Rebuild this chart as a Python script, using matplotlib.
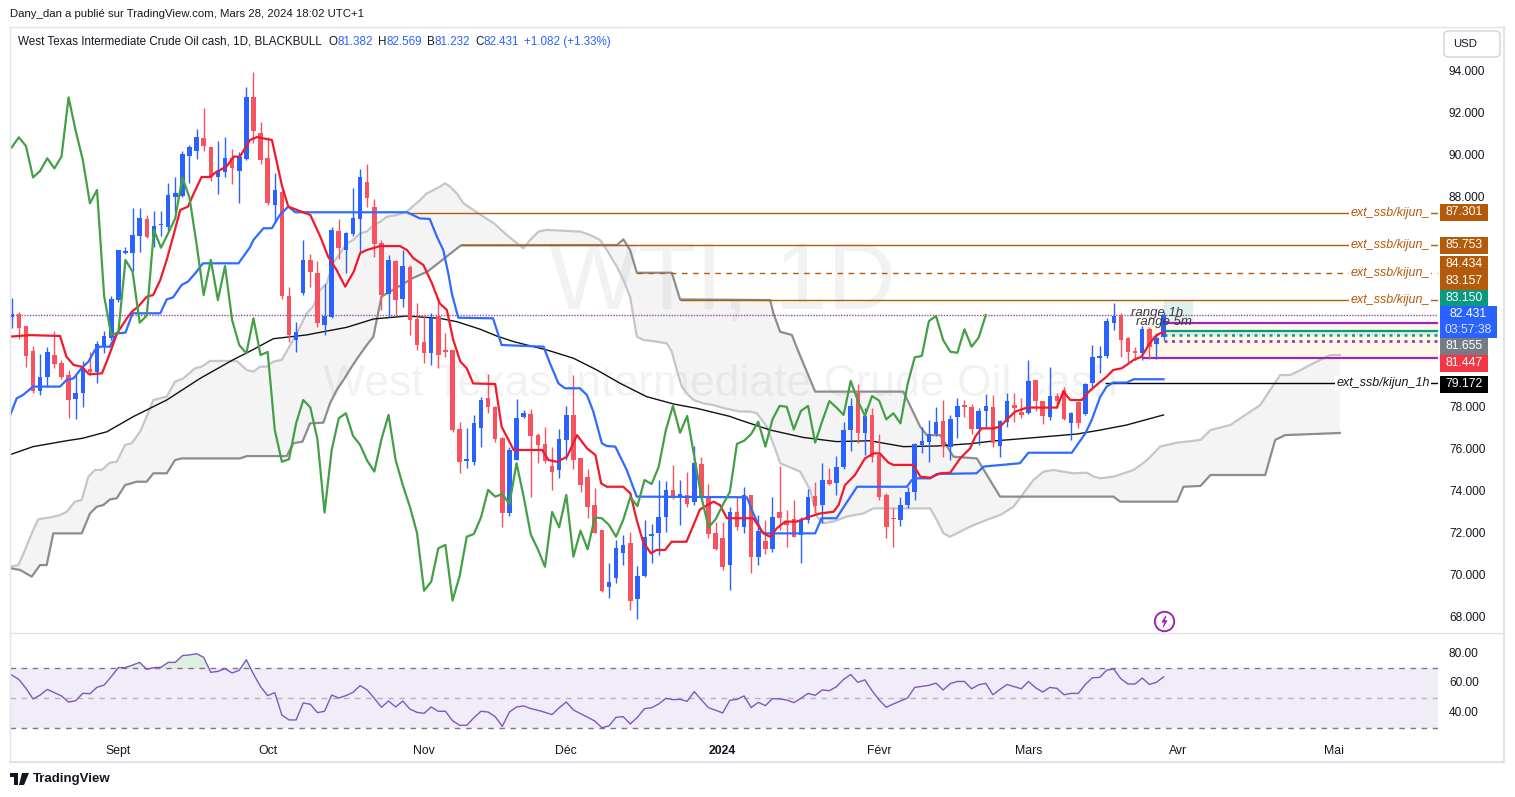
import numpy as np
import matplotlib
matplotlib.use("Agg")
import matplotlib.pyplot as plt
from matplotlib.patches import Rectangle, FancyBboxPatch, Polygon
from matplotlib.lines import Line2D

plt.rcParams['font.family'] = ['Liberation Sans', 'DejaVu Sans']

# ---------------- data ----------------
opens = [82.35, 82.47, 81.92, 80.71, 78.83, 79.49, 80.52, 80.13, 79.57, 78.43,
 78.70, 79.84, 79.73, 80.95, 81.32, 83.14, 85.40, 85.36, 86.19, 86.98,
 86.16, 86.70, 86.63, 88.06, 88.10, 90.00, 90.25, 90.84, 90.41, 88.98,
 89.25, 89.89, 89.30, 89.86, 92.80, 91.10, 89.89, 87.67, 88.30, 83.33,
 81.24, 83.46, 85.05, 84.41, 81.95, 82.35, 86.44, 85.52, 86.29, 87.00,
 88.78, 87.59, 85.84, 83.43, 85.02, 83.17, 84.73, 82.24, 81.16, 80.63,
 82.38, 80.73, 80.76, 76.98, 75.50, 75.44, 77.03, 78.46, 78.06, 76.56,
 73.02, 75.52, 77.56, 77.71, 76.71, 76.27, 75.24, 75.05, 76.48, 77.67,
 75.60, 74.73, 73.38, 72.19, 69.46, 69.89, 71.11, 71.56, 68.89, 70.00,
 71.90, 72.03, 72.83, 74.10, 73.78, 73.86, 73.54, 75.32, 73.78, 72.03,
 71.79, 70.52, 73.03, 72.35, 73.86, 70.92, 71.68, 71.27, 73.03, 72.62,
 72.70, 71.95, 72.67, 73.81, 73.38, 74.57, 74.41, 75.20, 76.95, 78.70,
 76.82, 77.67, 75.76, 73.86, 72.78, 72.67, 73.38, 74.00, 76.22, 76.37,
 76.76, 77.38, 76.16, 77.56, 78.14, 78.06, 76.98, 77.87, 78.06, 76.20,
 77.35, 78.14, 77.82, 77.78, 79.33, 78.33, 77.59, 78.57, 78.86, 77.30,
 78.30, 77.71, 79.17, 80.40, 80.49, 82.06, 82.43, 81.32, 80.68, 80.63,
 81.75, 81.03, 81.382]
highs = [83.22, 82.55, 81.92, 80.95, 80.57, 80.92, 81.66, 80.30, 79.81, 79.65,
 80.24, 80.65, 81.19, 81.68, 83.35, 85.52, 85.65, 87.54, 87.54, 87.19,
 87.38, 87.38, 88.70, 88.98, 90.25, 90.54, 91.28, 92.27, 90.41, 90.73,
 90.92, 90.33, 90.20, 93.27, 94.00, 91.60, 90.90, 89.17, 88.40, 83.78,
 82.11, 86.00, 85.32, 85.00, 83.90, 86.60, 86.99, 86.40, 88.46, 89.36,
 89.62, 87.95, 86.00, 85.30, 85.05, 85.52, 84.81, 82.98, 82.43, 82.54,
 83.30, 81.56, 80.76, 77.35, 77.03, 77.67, 78.54, 79.60, 78.10, 76.63,
 76.16, 78.41, 77.90, 77.95, 76.82, 77.11, 76.16, 76.98, 78.10, 79.57,
 75.60, 75.08, 74.17, 72.19, 70.60, 71.71, 71.95, 72.11, 70.48, 72.67,
 72.50, 74.57, 74.52, 75.29, 74.57, 74.97, 76.19, 75.65, 74.40, 72.59,
 72.59, 73.30, 73.75, 74.25, 73.86, 72.90, 72.67, 73.75, 75.24, 73.14,
 73.62, 72.83, 74.14, 74.49, 75.36, 75.13, 75.71, 77.35, 78.46, 79.14,
 77.98, 77.98, 76.76, 73.94, 73.22, 73.78, 74.25, 76.35, 77.11, 77.43,
 78.06, 78.38, 77.67, 78.46, 78.38, 78.19, 77.98, 78.67, 78.62, 77.43,
 78.70, 78.70, 78.46, 80.29, 79.35, 78.35, 79.94, 78.73, 79.02, 77.82,
 78.35, 79.21, 81.00, 80.95, 82.30, 82.98, 82.51, 81.40, 80.92, 81.90,
 81.87, 81.59, 82.569]
lows = [81.80, 81.27, 79.97, 78.70, 78.60, 79.00, 79.90, 79.40, 77.54, 77.47,
 78.06, 79.57, 79.17, 80.63, 81.24, 83.06, 85.35, 84.54, 85.44, 86.11,
 85.65, 86.20, 86.43, 87.35, 88.06, 88.70, 89.86, 90.24, 88.81, 88.17,
 88.98, 88.65, 87.75, 89.81, 90.60, 89.60, 87.67, 86.87, 83.17, 81.16,
 80.65, 83.38, 83.78, 81.87, 81.48, 82.27, 85.08, 84.41, 86.19, 85.36,
 87.59, 85.17, 82.67, 82.35, 82.43, 82.83, 81.48, 80.76, 80.13, 80.05,
 79.89, 80.44, 76.87, 74.92, 75.13, 75.29, 76.16, 77.75, 76.40, 72.35,
 72.86, 75.52, 77.51, 73.78, 75.37, 75.37, 74.10, 74.65, 75.52, 75.08,
 74.02, 72.75, 72.03, 69.25, 68.94, 69.65, 70.52, 68.38, 67.94, 69.97,
 70.60, 71.00, 72.11, 73.65, 72.43, 73.30, 73.38, 73.62, 71.80, 71.24,
 70.29, 69.33, 72.19, 72.03, 70.16, 70.52, 71.05, 71.16, 72.19, 71.40,
 71.85, 70.60, 72.51, 72.98, 72.51, 74.33, 73.86, 75.08, 75.97, 76.35,
 75.76, 75.44, 73.62, 71.79, 71.40, 72.38, 73.22, 73.62, 75.84, 75.44,
 76.67, 75.68, 75.52, 76.56, 77.56, 76.76, 76.24, 77.03, 76.16, 75.68,
 77.11, 77.35, 77.51, 77.70, 77.87, 77.22, 77.43, 77.98, 77.43, 76.48,
 77.03, 77.67, 78.97, 79.68, 80.37, 81.71, 80.41, 80.20, 80.29, 80.29,
 80.32, 80.33, 81.232]
closes = [82.50, 81.82, 80.49, 78.81, 79.46, 80.65, 80.08, 79.49, 78.38, 78.70,
 79.89, 79.73, 81.03, 81.43, 83.19, 85.52, 85.49, 86.24, 87.03, 86.16,
 86.67, 86.78, 88.14, 88.25, 90.10, 90.41, 90.89, 90.48, 88.98, 89.29,
 89.89, 89.41, 89.97, 92.79, 91.20, 89.81, 87.75, 88.38, 83.33, 81.48,
 81.60, 85.05, 84.49, 82.06, 82.40, 86.48, 85.63, 86.32, 87.03, 88.98,
 88.02, 85.81, 83.38, 85.05, 83.14, 84.76, 82.19, 81.00, 80.60, 82.27,
 80.52, 80.67, 76.95, 75.44, 75.56, 77.27, 78.38, 78.03, 76.51, 73.02,
 76.00, 77.51, 77.75, 76.68, 76.24, 75.49, 74.97, 76.51, 77.67, 75.52,
 74.33, 73.30, 72.06, 69.30, 69.73, 71.32, 71.48, 68.83, 70.00, 71.87,
 72.00, 72.79, 74.10, 73.78, 73.90, 73.43, 75.37, 73.78, 71.98, 71.27,
 70.44, 73.05, 72.32, 73.86, 70.92, 72.16, 71.27, 72.79, 72.75, 72.43,
 71.87, 72.67, 73.75, 73.33, 74.57, 74.38, 75.20, 76.95, 78.10, 76.82,
 77.62, 75.68, 73.78, 72.32, 72.70, 73.38, 74.00, 76.29, 76.44, 76.76,
 77.35, 76.16, 77.46, 78.10, 78.06, 76.98, 77.86, 78.10, 76.35, 77.38,
 78.33, 78.02, 77.67, 79.29, 78.35, 77.62, 78.57, 78.35, 77.46, 77.75,
 77.27, 79.13, 80.41, 80.48, 82.14, 82.38, 81.24, 80.68, 80.63, 81.75,
 80.92, 81.35, 82.431]

chikou_shift = 25

tenkan_pts = [(-0.2,81.40),(2.6,81.47),(6.8,81.43),(7.7,80.44),(8.7,80.05),(9.8,79.97),(10.9,79.60),
 (12.7,79.65),(13.8,80.60),(14.8,81.55),(16.2,82.27),(16.9,82.59),(17.8,82.83),(19.0,83.30),(19.9,83.38),
 (20.9,84.10),(21.8,85.05),(22.7,86.16),(23.7,87.43),(24.8,87.59),(25.5,88.14),(26.7,89.00),(27.9,89.00),
 (28.8,89.25),(30.2,89.49),(31.2,89.97),(32.1,89.97),(33.5,90.76),(34.5,90.90),(36.6,90.76),(38.0,88.60),
 (38.9,87.59),(42.0,87.19),(43.4,86.16),(44.5,85.21),(45.7,84.57),(46.9,83.78),(48.1,84.49),(49.0,85.37),
 (49.9,85.52),(51.8,85.71),(54.6,85.71),(55.6,85.52),(56.5,85.13),(57.9,84.81),(59.1,83.94),(60.2,82.98),
 (61.2,82.67),(62.1,81.24),(63.1,80.21),(64.0,79.89),(64.9,79.17),(68.0,79.14),(68.9,77.11),(70.6,76.00),
 (74.6,76.00),(75.5,75.52),(76.7,75.44),(78.1,75.68),(79.5,76.71),(80.9,76.08),(82.1,75.76),(82.9,74.41),
 (83.7,74.25),(86.0,74.25),(87.0,73.94),(87.9,72.67),(88.8,71.63),(89.9,71.08),(90.7,71.24),(91.9,71.24),
 (92.8,71.63),(94.9,71.63),(96.8,73.17),(98.7,73.54),(99.6,73.38),(100.6,72.75),(104.3,72.75),(105.7,72.03),
 (106.7,71.87),(107.6,72.27),(108.8,72.59),(110.4,72.59),(112.3,72.83),(113.7,72.98),(115.6,73.06),
 (116.3,73.38),(117.2,74.33),(118.6,74.81),(120.0,75.60),(121.2,75.84),(122.1,75.84),(123.3,75.40),
 (124.0,75.29),(126.8,75.29),(127.8,74.73),(129.2,74.68),(130.6,74.89),(132.0,74.92),(133.4,75.60),
 (134.8,76.08),(135.5,76.63),(136.4,77.03),(138.0,77.03),(139.0,77.11),(139.9,77.43),(141.1,77.82),
 (142.8,78.02),(147.0,78.02),(147.9,78.78),(148.9,78.38),(150.5,78.38),(151.5,78.78),(153.1,79.25),
 (154.0,79.49),(154.9,79.81),(156.1,79.89),(156.8,80.05),(157.8,80.29),(158.9,80.44),(159.9,81.00),
 (160.8,81.40),(161.5,81.56),(162.2,81.59)]

kijun_pts = [(-0.2,77.67),(0.7,78.46),(1.6,78.62),(3.0,79.02),(6.8,79.02),(7.7,79.33),(8.7,79.41),(9.8,79.89),
 (10.8,80.21),(11.7,80.76),(12.4,80.92),(13.8,80.92),(14.8,81.55),(16.0,81.59),(17.0,82.51),(20.9,82.51),
 (21.8,83.17),(22.7,83.27),(23.9,83.86),(24.8,84.02),(26.0,84.49),(26.9,84.89),(31.9,84.89),(33.5,85.65),
 (34.0,86.00),(35.4,86.56),(36.6,86.56),(37.7,87.19),(38.9,87.59),(39.9,87.32),(55.6,87.32),(57.4,87.03),
 (58.8,87.00),(59.8,86.16),(60.7,85.52),(61.4,84.41),(61.9,83.46),(62.8,82.30),(67.7,82.27),(68.9,81.00),
 (74.8,80.92),(75.7,80.13),(76.9,79.17),(77.8,78.94),(79.9,78.94),(80.9,78.62),(81.8,77.83),(83.0,76.32),
 (83.7,76.19),(84.9,76.16),(86.5,75.05),(87.9,73.78),(103.4,73.75),(104.3,72.98),(105.5,72.11),(106.0,72.03),
 (113.0,72.03),(113.9,72.75),(116.0,72.75),(117.2,73.38),(118.9,74.25),(125.9,74.25),(126.6,74.57),
 (127.3,74.65),(129.2,74.65),(130.1,74.86),(135.7,74.89),(136.7,75.21),(141.8,75.37),(143.0,75.87),
 (149.1,75.87),(151.0,76.79),(151.9,77.43),(153.1,78.54),(154.0,79.02),(154.9,79.21),(156.8,79.21),
 (157.8,79.37),(162.0,79.37)]

sma200_pts = [(-0.2,75.78),(3.0,76.16),(7.7,76.44),(10.0,76.56),(13.4,76.87),(17.1,77.59),(21.8,78.38),
 (26.5,79.41),(31.1,80.29),(33.5,80.70),(36.8,81.30),(41.5,81.48),(42.7,81.56),(47.1,81.84),(50.9,82.24),
 (55.6,82.38),(60.2,82.27),(62.6,82.11),(65.9,81.75),(68.2,81.43),(70.6,81.16),(75.3,80.76),(79.0,80.37),
 (82.3,79.81),(85.6,79.17),(89.3,78.54),(93.1,78.19),(96.4,77.98),(101.0,77.60),(102.4,77.43),(106.7,76.95),
 (111.3,76.60),(116.0,76.40),(120.7,76.44),(125.4,76.16),(130.1,76.19),(134.8,76.30),(138.1,76.43),
 (142.8,76.56),(149.8,76.76),(153.1,76.95),(156.8,77.19),(162.0,77.67)]

span_a_pts = [(-0.24,70.44),(0.93,70.52),(1.87,71.24),(2.81,72.03),(3.74,72.70),(5.39,72.79),(6.79,72.90),
 (7.74,73.06),(8.90,73.54),(9.85,73.62),(10.78,74.73),(11.72,75.05),(12.66,75.05),(13.83,75.40),(14.77,75.44),
 (15.94,76.24),(16.88,76.32),(18.05,76.87),(18.99,77.59),(19.92,78.38),(21.80,78.54),(22.97,79.25),
 (24.14,79.41),(25.78,79.89),(26.73,79.97),(27.89,80.24),(31.65,80.24),(33.06,79.81),(33.99,79.73),
 (34.93,79.97),(35.87,79.97),(36.80,80.21),(37.98,80.29),(38.91,80.84),(39.85,81.40),(40.56,81.87),
 (41.50,82.51),(42.38,82.83),(43.37,83.62),(44.31,83.94),(45.20,84.89),(46.18,85.37),(47.12,85.84),
 (48.05,86.00),(49.00,86.32),(49.94,86.40),(50.87,86.71),(51.81,86.87),(52.75,87.11),(54.16,87.19),
 (55.56,87.35),(57.43,87.90),(58.38,88.22),(59.31,88.38),(60.25,88.54),(60.95,88.70),(61.66,88.54),
 (62.60,88.22),(63.53,87.75),(64.93,87.43),(66.34,87.11),(67.80,86.80),(69.63,86.24),(70.50,86.00),
 (71.97,85.60),(72.91,86.00),(74.08,86.40),(75.26,86.48),(79.94,86.40),(81.35,86.24),(82.76,86.00),
 (83.70,85.52),(85.11,84.73),(86.03,84.10),(86.97,83.30),(87.92,81.40),(88.85,81.24),(90.73,81.16),
 (92.14,81.08),(92.84,80.68),(93.54,79.81),(94.25,79.02),(94.95,78.70),(95.88,78.38),(97.29,78.22),
 (98.69,78.14),(100.10,78.00),(102.45,77.83),(103.86,77.83),(104.80,77.75),(106.20,77.11),(107.61,75.84),
 (108.08,75.37),(110.89,74.97),(112.30,74.10),(113.24,72.83),(114.17,72.51),(115.58,72.59),(117.46,72.83),
 (119.80,72.98),(121.20,73.22),(129.17,73.22),(130.11,72.67),(131.04,72.03),(131.98,71.87),(133.39,72.11),
 (134.80,72.35),(137.10,72.67),(139.00,72.90),(140.90,73.30),(142.30,73.94),(143.70,74.57),(145.10,74.97),
 (146.50,75.05),(149.30,74.89),(151.20,74.92),(152.20,74.73),(153.10,74.65),(154.96,74.73),(157.80,75.05),
 (159.70,75.52),(161.50,76.16),(163.90,76.35),(165.30,76.40),(167.20,76.48),(168.60,76.95),(171.40,77.19),
 (173.50,77.67),(175.60,78.14),(177.00,78.86),(178.40,79.57),(179.80,79.57),(181.30,79.81),(182.60,80.05),
 (185.40,80.52),(186.80,80.52)]

span_b_pts = [(-0.24,70.37),(1.17,70.29),(2.81,69.97),(3.98,70.52),(4.92,70.52),(5.85,72.03),(9.85,72.03),
 (11.01,72.98),(11.96,73.30),(12.89,73.38),(13.83,73.65),(14.77,73.70),(15.94,74.33),(17.58,74.49),
 (18.99,74.49),(19.92,74.89),(21.80,74.89),(22.97,75.52),(23.91,75.60),(32.11,75.60),(33.06,75.71),
 (38.68,75.71),(39.61,76.32),(40.90,76.40),(41.96,77.27),(43.83,77.30),(44.77,78.22),(45.72,78.86),
 (46.65,79.33),(47.83,79.97),(48.76,80.44),(49.94,81.00),(50.87,81.40),(51.34,82.19),(52.00,83.30),
 (54.00,83.70),(56.50,84.20),(58.50,84.50),(60.00,84.90),(61.50,85.30),(63.20,85.75),(85.11,85.76),
 (86.03,86.03),(86.97,85.52),(87.92,84.44),(92.84,84.44),(94.00,83.17),(106.67,83.14),(107.13,82.51),
 (108.07,81.63),(109.72,81.48),(110.65,80.68),(113.00,78.78),(125.40,78.78),(127.77,77.11),(128.70,76.71),
 (130.58,76.71),(132.46,75.68),(135.74,75.60),(139.00,73.78),(154.96,73.78),(155.90,73.54),(163.90,73.54),
 (164.80,74.25),(167.20,74.29),(168.60,74.81),(176.30,74.81),(177.70,76.48),(179.10,76.71),(186.80,76.81)]

rsi = [65.6, 62.7, 56.7, 49.6, 52.2, 56.0, 53.8, 51.6, 47.5, 48.4,
 53.4, 53.1, 57.4, 58.9, 64.5, 70.6, 70.6, 72.3, 74.1, 69.4,
 70.6, 70.8, 74.1, 74.1, 78.6, 79.1, 79.9, 77.5, 67.4, 68.1,
 69.9, 67.0, 68.8, 75.9, 66.3, 57.8, 51.8, 53.8, 38.8, 35.5,
 35.5, 46.9, 46.0, 40.4, 41.3, 52.2, 50.2, 51.8, 54.0, 58.5,
 55.6, 50.0, 44.0, 48.2, 44.2, 48.2, 42.8, 40.6, 39.9, 44.2,
 41.3, 41.3, 35.0, 31.9, 31.9, 37.0, 41.3, 40.8, 37.7, 31.2,
 40.8, 44.2, 44.9, 43.1, 42.0, 40.6, 39.1, 43.7, 47.5, 42.2,
 39.7, 37.3, 34.8, 30.3, 31.5, 37.3, 37.7, 32.8, 37.3, 43.1,
 43.7, 46.2, 50.0, 49.1, 49.3, 48.0, 54.5, 48.9, 43.7, 42.0,
 40.2, 48.7,
 49.3, 51.6, 43.8, 47.3, 45.1, 49.8, 49.6, 48.9, 47.1, 50.0,
 53.3, 52.0, 55.6, 55.1, 57.8, 62.7, 66.0, 60.7, 62.4, 55.1,
 48.9, 44.0, 46.2, 48.2, 50.2, 57.3, 58.0, 58.7, 60.2, 55.6,
 59.8, 61.3, 61.3, 56.4, 59.1, 60.0, 52.4, 56.0, 59.3, 57.8,
 56.4, 61.3, 57.1, 54.2, 57.3, 56.7, 52.4, 53.3, 53.3, 59.3,
 63.8, 64.0, 68.9, 69.6, 63.1, 59.6, 59.6, 63.6, 59.3, 60.7, 64.4]

month_ticks = [15, 36, 58, 78, 100, 122, 143, 164, 186]
month_labels = ['Sept', 'Oct', 'Nov', 'Déc', '2024', 'Févr', 'Mars', 'Avr', 'Mai']
price_ticks = [94, 92, 90, 88, 78, 76, 74, 72, 70, 68]
rsi_ticks = [80, 60, 40]

# horizontal levels: value, start bar, style
level_values = [87.301, 85.753, 84.434, 83.157]
level_starts = [55.6, 63.2, 87.9, 94.0]
level_styles = ['-', '-', (0, (4, 4)), '-']
kijun_1h_value = 79.172
kijun_1h_start = 153.8
last_price = 82.431

axis_labels = ['87.301', '85.753', '84.434', '83.157', '83.150', '81.655', '81.447', '79.172']
axis_label_colors = ['#b35a0b', '#b35a0b', '#b35a0b', '#b35a0b', '#089981', '#787b86', '#f23645', '#000000']
axis_label_ypix = [212, 245, 264, 281, 298, 346, 363, 384]

range_top, range_bot = 82.03, 80.36
range_teal, range_teal_dot, range_purple_dot = 81.69, 81.48, 81.20

# ---------------- figure ----------------
W, H = 1515, 797
fig = plt.figure(figsize=(W / 100, H / 100), dpi=100)
fig.patch.set_facecolor('white')

def fx(px): return px / W
def fy(py): return 1 - py / H

X0, X1 = 10, 1438
def afx(px): return (px - X0) / (X1 - X0)
def p_of_y(py): return 94 - (py - 72) / 21.0

ax = fig.add_axes([fx(X0), fy(632), (X1 - X0) / W, (632 - 28) / H])
axr = fig.add_axes([fx(X0), fy(735), (X1 - X0) / W, (735 - 633) / H], sharex=ax)

XMIN, XMAX = -0.24, 200.6
ax.set_xlim(XMIN, XMAX)
ax.set_ylim(p_of_y(632), p_of_y(28))
axr.set_ylim(25.4, 93.8)
for a in (ax, axr):
    for s in a.spines.values():
        s.set_visible(False)
    a.set_yticks([])
ax.tick_params(axis='x', bottom=False, labelbottom=False)

BULL, BEAR = '#2962ff', '#f7525f'
BROWN = '#b35a0b'

o = np.array(opens); h = np.array(highs); l = np.array(lows); c = np.array(closes)
x = np.arange(len(c))
cols = np.where(c >= o, BULL, BEAR)

# watermark
ax.text(100, p_of_y(284), 'WTI, 1D', fontsize=68, color='#9598a1', alpha=0.12,
        ha='center', va='center', zorder=0)
ax.text(99.6, p_of_y(385), 'West Texas Intermediate Crude Oil cash', fontsize=32,
        color='#9598a1', alpha=0.12, ha='center', va='center', zorder=0)

# cloud
ax_, ay_ = zip(*span_a_pts)
bx_, by_ = zip(*span_b_pts)
poly = Polygon(np.column_stack([np.r_[ax_, bx_[::-1]], np.r_[ay_, by_[::-1]]]),
               closed=True, fc='#787b86', alpha=0.08, ec='none', zorder=1)
ax.add_patch(poly)
ax.plot(ax_, ay_, color='#c5c6cb', lw=1.6, zorder=1.5)
ax.plot(bx_, by_, color='#8d8d8f', lw=1.6, zorder=1.5)

# SMA 200
sx, sy = zip(*sma200_pts)
ax.plot(sx, sy, color='#111111', lw=1, zorder=2)

# levels
for v, st, ls in zip(level_values, level_starts, level_styles):
    ax.hlines(v, st, XMAX, color=BROWN, lw=1, linestyles=[ls], zorder=2)
    ax.text(193.9, v, 'ext_ssb/kijun_', ha='center', va='center', style='italic',
            color=BROWN, fontsize=9,
            bbox=dict(fc='white', ec='none', pad=1.0), zorder=6)
ax.hlines(kijun_1h_value, kijun_1h_start, XMAX, color='#000000', lw=1, zorder=2)
ax.text(192.9, kijun_1h_value, 'ext_ssb/kijun_1h', ha='center', va='center',
        style='italic', color='#131722', fontsize=9,
        bbox=dict(fc='white', ec='none', pad=1.0), zorder=6)

# range zone
ax.add_patch(Rectangle((159.1, range_bot), XMAX - 159.1, range_top - range_bot,
                       fc='#fdf8e6', ec='none', zorder=1.2))
ax.add_patch(Rectangle((162.0, range_teal_dot), XMAX - 162.0, range_teal - range_teal_dot,
                       fc='#dcefe6', ec='none', zorder=1.3))
ax.add_patch(Rectangle((162.0, 82.05), 4.2, 1.09, fc='#dff1ee', ec='none', zorder=1.3))
ax.hlines(range_top, 162.0, XMAX, color='#9c27b0', lw=1.6, zorder=2.5)
ax.hlines(range_teal, 162.0, XMAX, color='#089981', lw=1.6, zorder=2.5)
ax.hlines(range_teal_dot, 162.0, XMAX, color='#089981', lw=1.8,
          linestyles=[(0, (1.2, 1.8))], zorder=2.5)
ax.hlines(range_purple_dot, 162.0, XMAX, color='#9c27b0', lw=1.8,
          linestyles=[(0, (1.2, 1.8))], zorder=2.5)
ax.hlines(range_bot, 159.1, XMAX, color='#9c27b0', lw=1.6, zorder=2.5)

# candles
ax.vlines(x, l, h, colors=cols, lw=1, zorder=3)
body_lo = np.minimum(o, c)
body_h = np.maximum(np.abs(c - o), 0.07)
ax.bar(x, body_h, bottom=body_lo, width=0.64, color=cols, linewidth=0, zorder=3)

# ichimoku lines
tx, ty = zip(*tenkan_pts)
kx, ky = zip(*kijun_pts)
ax.plot(kx, ky, color='#2f6bff', lw=1.6, zorder=4)
ax.plot(tx, ty, color='#f01a2c', lw=1.6, zorder=4)
ax.plot(x[:len(c) - chikou_shift], c[chikou_shift:], color='#43a047', lw=1.6, zorder=4)

# last price dotted line
ax.axhline(last_price, color='#f23645', lw=1, ls=(0, (1, 3)), zorder=2.6)
ax.axhline(last_price, color='#2962ff', lw=1, ls=(2, (1, 3)), zorder=2.6)

# range texts
ax.text(161.1, p_of_y(313), 'range 1h', style='italic', fontsize=9.5, color='#3a3a3a',
        ha='center', va='center', zorder=7)
ax.text(162.0, p_of_y(322), 'range 5m', style='italic', fontsize=9.5, color='#3a3a3a',
        ha='center', va='center', zorder=7)

# lightning icon
ax.plot([162.0], [p_of_y(621)], marker='o', ms=14, mfc='white', mec='#9c27b0', mew=1.4,
        zorder=7, clip_on=False)
bolt = [(0.25, 1), (-0.45, -0.1), (0.05, -0.1), (-0.25, -1), (0.45, 0.15), (-0.05, 0.15), (0.25, 1)]
ax.plot([162.0], [p_of_y(621)], marker=bolt, ms=8, color='#9c27b0', mew=0.6, zorder=8, clip_on=False)

# right price scale
ytr = ax.get_yaxis_transform()
for p in price_ticks:
    ax.text(afx(1449), p, f'{p:.3f}', transform=ytr, ha='left', va='center',
            fontsize=8.6, color='#131722', clip_on=False, zorder=9)
hh = 8.5 / 21.0
for txt, col, yp in zip(axis_labels, axis_label_colors, axis_label_ypix):
    yc = p_of_y(yp)
    ax.add_patch(Rectangle((afx(1440), yc - hh), afx(1488) - afx(1440), 2 * hh,
                           transform=ytr, fc=col, ec='none', clip_on=False, zorder=10))
    ax.text(afx(1464), yc, txt, transform=ytr, ha='center', va='center', fontsize=8.8,
            color='white', clip_on=False, zorder=11)
# last price box (two lines)
ax.add_patch(Rectangle((afx(1440), p_of_y(338)), afx(1497) - afx(1440), p_of_y(306) - p_of_y(338),
                       transform=ytr, fc='#2962ff', ec='none', clip_on=False, zorder=10))
ax.text(afx(1468), p_of_y(314), f'{last_price:.3f}', transform=ytr, ha='center', va='center',
        fontsize=8.8, color='white', clip_on=False, zorder=11)
ax.text(afx(1468), p_of_y(330), '03:57:38', transform=ytr, ha='center', va='center',
        fontsize=8.8, color='#dfe6ff', clip_on=False, zorder=11)

# RSI pane
rs = np.array(rsi)
xr = np.arange(len(rs))
axr.axhspan(30, 70, color='#7e57c2', alpha=0.1, lw=0)
axr.axhline(70, color='#787b86', lw=1, ls=(0, (4, 4)))
axr.axhline(50, color='#787b86', lw=1, ls=(0, (4, 4)), alpha=0.5)
axr.axhline(30, color='#787b86', lw=1, ls=(0, (4, 4)))
axr.fill_between(xr, 70, rs, where=rs >= 70, interpolate=True, color='#4caf50', alpha=0.18, lw=0)
axr.plot(xr, rs, color='#7e57c2', lw=1)
ytr2 = axr.get_yaxis_transform()
for v in rsi_ticks:
    axr.text(afx(1449), v, f'{v:.2f}', transform=ytr2, ha='left', va='center',
             fontsize=8.6, color='#131722', clip_on=False)

axr.set_xticks(month_ticks)
axr.set_xticklabels(month_labels)
axr.tick_params(axis='x', length=0, pad=7, labelsize=8.8, colors='#131722')
for t in axr.get_xticklabels():
    if t.get_text() == '2024':
        t.set_fontweight('bold')
axr.set_xlim(XMIN, XMAX)

# frame and separators
lc = '#e0e3eb'
fig.add_artist(Line2D([fx(10), fx(1504)], [fy(27), fy(27)], color=lc, lw=1))
fig.add_artist(Line2D([fx(10), fx(10)], [fy(27), fy(762)], color=lc, lw=1))
fig.add_artist(Line2D([fx(1504), fx(1504)], [fy(27), fy(762)], color=lc, lw=1.5))
fig.add_artist(Line2D([fx(10), fx(1504)], [fy(762), fy(762)], color=lc, lw=1.5))
fig.add_artist(Line2D([fx(10), fx(1504)], [fy(633), fy(633)], color=lc, lw=1))

# header
fig.text(fx(10), fy(14), 'Dany_dan a publié sur TradingView.com, Mars 28, 2024 18:02 UTC+1',
         fontsize=8.2, color='#131722', ha='left', va='center')
renderer = fig.canvas.get_renderer()
dark, blue = '#131722', '#2962ff'
pieces = [('West Texas Intermediate Crude Oil cash, 1D, BLACKBULL', dark, 7),
          ('O', dark, 0), ('81.382', blue, 5), ('H', dark, 0), ('82.569', blue, 5),
          ('B', dark, 0), ('81.232', blue, 5), ('C', dark, 0), ('82.431', blue, 5),
          ('+1.082 (+1.33%)', blue, 0)]
xpos = 18
for txt, col, gap in pieces:
    t = fig.text(fx(xpos), fy(42), txt, fontsize=8.4, color=col, ha='left', va='center')
    bb = t.get_window_extent(renderer)
    xpos += bb.width + gap

# USD box
fig.patches.append(FancyBboxPatch((fx(1444), fy(57)), fx(1500) - fx(1444), fy(31) - fy(57),
                                  boxstyle='round,pad=0,rounding_size=0.004',
                                  transform=fig.transFigure, fc='white', ec='#d1d4dc', lw=1))
fig.text(fx(1453), fy(44), 'USD', fontsize=8.2, color='#131722', ha='left', va='center')

# TradingView logo
fig.patches.append(Rectangle((fx(10), fy(777)), fx(18) - fx(10), fy(773) - fy(777),
                             transform=fig.transFigure, fc='#131722', ec='none'))
fig.patches.append(Rectangle((fx(14), fy(785)), fx(18) - fx(14), fy(777) - fy(785),
                             transform=fig.transFigure, fc='#131722', ec='none'))
fig.patches.append(Polygon([(fx(22), fy(773)), (fx(29), fy(773)), (fx(24), fy(785)), (fx(19), fy(785))],
                           closed=True, transform=fig.transFigure, fc='#131722', ec='none'))
fig.text(fx(33), fy(779), 'TradingView', fontsize=9.5, fontweight='bold', color='#131722',
         ha='left', va='center')

fig.savefig('out.png', dpi=100, facecolor='white')
